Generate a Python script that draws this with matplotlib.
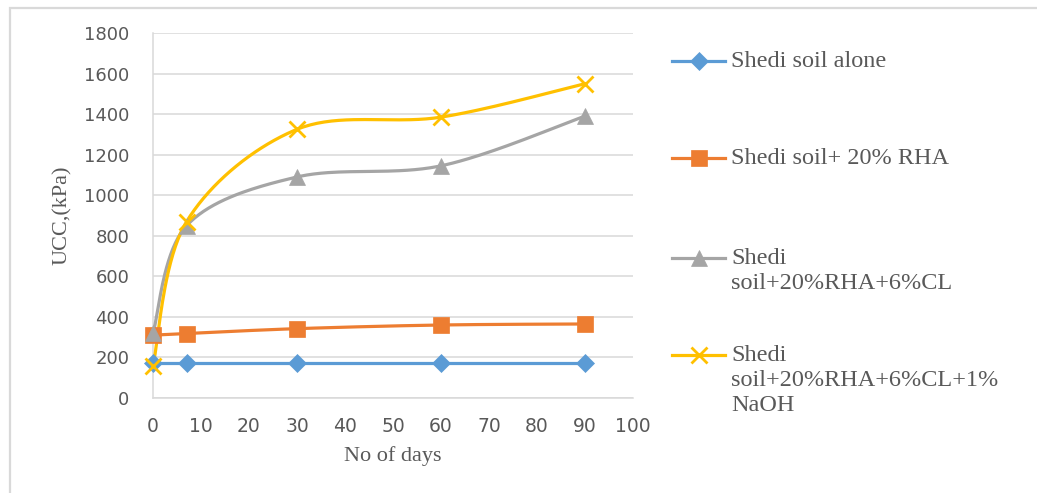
import numpy as np
import matplotlib
matplotlib.use("Agg")
import matplotlib.pyplot as plt
from matplotlib.lines import Line2D
from matplotlib.patches import Rectangle

# Curing time (days) and unconfined compressive strength (kPa)
days = [0, 7, 30, 60, 90]
soil_alone = [175, 175, 175, 175, 175]
soil_rha = [310, 318, 342, 360, 365]
soil_rha_cl = [320, 850, 1090, 1145, 1390]
soil_rha_cl_naoh = [160, 870, 1325, 1385, 1550]

series_labels = [
    "Shedi soil alone",
    "Shedi soil+ 20% RHA",
    "Shedi\nsoil+20%RHA+6%CL",
    "Shedi\nsoil+20%RHA+6%CL+1%\nNaOH",
]
x_ticks = [0, 10, 20, 30, 40, 50, 60, 70, 80, 90, 100]
y_ticks = [0, 200, 400, 600, 800, 1000, 1200, 1400, 1600, 1800]

colors = ["#5B9BD5", "#ED7D31", "#A5A5A5", "#FFC000"]
markers = ["D", "s", "^", "x"]
msizes = [9, 12, 11, 11]


def smooth(xs, ys, n=40):
    """Cubic Bezier smoothing through every point (Catmull-Rom style tangents)."""
    p = np.column_stack([xs, ys]).astype(float)
    k = len(p)
    out = [p[0]]
    for i in range(k - 1):
        p0 = p[i - 1] if i > 0 else p[i]
        p1 = p[i]
        p2 = p[i + 1]
        p3 = p[i + 2] if i + 2 < k else p[i + 1]
        c1 = p1 + (p2 - p0) / 6.0
        c2 = p2 - (p3 - p1) / 6.0
        t = np.linspace(0, 1, n)[1:, None]
        seg = ((1 - t) ** 3) * p1 + 3 * ((1 - t) ** 2) * t * c1 + 3 * (1 - t) * t ** 2 * c2 + t ** 3 * p2
        out.extend(seg)
    out = np.array(out)
    return out[:, 0], out[:, 1]


W, H = 1037, 493
fig = plt.figure(figsize=(W / 100, H / 100), dpi=100)

# outer chart border
fig.add_artist(Rectangle((10 / W, -0.2), 1.5, (H - 8) / H + 0.2,
                         transform=fig.transFigure, fill=False,
                         edgecolor="#D9D9D9", linewidth=1.6))

ax = fig.add_axes([153 / W, (H - 398) / H, (633 - 153) / W, (398 - 33) / H])

all_series = [soil_alone, soil_rha, soil_rha_cl, soil_rha_cl_naoh]
for vals, c, m, ms in zip(all_series, colors, markers, msizes):
    sx, sy = smooth(days, vals)
    ax.plot(sx, sy, color=c, linewidth=2.3, solid_capstyle="round", zorder=3)
    ax.plot(days, vals, linestyle="none", marker=m, markersize=ms,
            color=c, markeredgecolor=c, markeredgewidth=2.0 if m == "x" else 0.5,
            zorder=4, clip_on=False)

ax.set_xlim(0, 100)
ax.set_ylim(0, 1800)
ax.set_xticks(x_ticks)
ax.set_yticks(y_ticks)
ax.yaxis.grid(True, color="#D9D9D9", linewidth=1.1)
ax.xaxis.grid(False)
ax.set_axisbelow(True)
for side in ["top", "right"]:
    ax.spines[side].set_visible(False)
for side in ["left", "bottom"]:
    ax.spines[side].set_color("#D9D9D9")
    ax.spines[side].set_linewidth(1.1)
ax.tick_params(axis="both", length=0, labelsize=13, labelcolor="#595959")
ax.tick_params(axis="y", pad=17)
ax.tick_params(axis="x", pad=14)
for lbl in ax.get_yticklabels():
    lbl.set_fontfamily("DejaVu Sans")
for lbl in ax.get_xticklabels():
    lbl.set_fontfamily("DejaVu Sans")
    lbl.set_fontsize(13.5)

serif = "Liberation Serif"
ax.set_ylabel("UCC,(kPa)", fontsize=16, family=serif, color="#595959")
ax.set_xlabel("No of days", fontsize=16, family=serif, color="#595959")
ax.yaxis.set_label_coords((72 - 153) / (633 - 153), 0.5)
ax.xaxis.set_label_coords(0.5, -(446 - 398) / (398 - 33))

# legend drawn to the right of the plot
legend_y = [61, 158, 258, 355]
for lab, c, m, ms, yy in zip(series_labels, colors, markers, msizes, legend_y):
    yf = (H - yy) / H
    fig.add_artist(Line2D([672 / W, 725 / W], [yf, yf], transform=fig.transFigure,
                          color=c, linewidth=2.3))
    fig.add_artist(Line2D([698.5 / W], [yf], transform=fig.transFigure,
                          marker=m, markersize=ms, color=c, markeredgecolor=c,
                          markeredgewidth=2.0 if m == "x" else 0.5, linestyle="none"))
    fig.text(731 / W, (H - yy + 10) / H, lab, transform=fig.transFigure,
             fontsize=17.5, family=serif, color="#595959", va="top",
             ha="left", linespacing=1.25)

fig.savefig("out.png", dpi=100)
